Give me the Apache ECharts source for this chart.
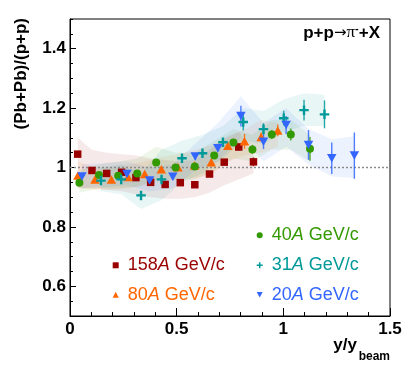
<!DOCTYPE html>
<html><head><meta charset="utf-8">
<script src="https://cdn.jsdelivr.net/npm/echarts@6/dist/echarts.min.js"></script>
<style>html,body{margin:0;padding:0;background:#fff}#c{width:411px;height:373px}</style>
</head><body><div id="c"></div>
<script>
// ---- tick labels ----
const xTickValues = [0, 0.5, 1, 1.5];
const yTickValues = [0.6, 0.8, 1.0, 1.2, 1.4];
const refLevel = 1;

// ---- 158A GeV/c ----
const x158 = [0.036,0.103,0.172,0.242,0.309,0.378,0.446,0.517,0.585,0.654,0.723,0.791,0.860];
const y158 = [1.045,0.990,0.980,0.984,0.966,0.950,0.943,0.949,0.942,0.978,1.018,1.069,1.019];
const e158 = [0.008,0.008,0.008,0.008,0.008,0.008,0.008,0.008,0.008,0.008,0.01,0.012,0.015];
const lo158 = [0.93,0.93,0.925,0.92,0.91,0.90,0.895,0.895,0.90,0.915,0.94,0.96,0.98];
const hi158 = [1.10,1.06,1.05,1.045,1.04,1.03,1.025,1.02,1.025,1.06,1.10,1.12,1.04];

// ---- 80A GeV/c ----
const x80 = [0.037,0.117,0.194,0.272,0.350,0.428,0.506,0.584,0.662,0.740,0.818,0.896,0.974];
const y80 = [0.973,0.960,0.960,0.968,0.978,0.994,1.001,1.007,1.018,1.073,1.088,1.103,1.125];
const e80 = [0.008,0.008,0.008,0.008,0.008,0.008,0.008,0.008,0.01,0.012,0.025,0.015,0.02];
const lo80 = [0.93,0.925,0.925,0.93,0.94,0.955,0.96,0.965,0.975,1.02,1.04,1.05,1.07];
const hi80 = [1.02,1.00,1.00,1.01,1.02,1.035,1.045,1.06,1.075,1.10,1.13,1.16,1.15];

// ---- 40A GeV/c ----
const x40 = [0.044,0.136,0.226,0.315,0.404,0.495,0.585,0.676,0.766,0.855,0.946,1.035,1.125];
const y40 = [0.949,0.975,0.972,0.980,1.017,1.000,1.003,1.040,1.084,1.061,1.111,1.111,1.063];
const e40 = [0.008,0.008,0.008,0.008,0.008,0.008,0.008,0.01,0.012,0.015,0.015,0.02,0.04];
const lo40 = [0.915,0.93,0.93,0.935,0.96,0.96,0.96,0.99,1.03,1.02,1.06,1.06,1.02];
const hi40 = [0.99,1.01,1.02,1.03,1.07,1.05,1.05,1.09,1.13,1.11,1.16,1.16,1.11];

// ---- 31A GeV/c ----
const x31 = [0.145,0.240,0.333,0.429,0.525,0.621,0.717,0.812,0.907,1.002,1.097,1.193];
const y31 = [0.956,0.960,0.906,0.960,1.031,1.048,1.085,1.153,1.129,1.166,1.193,1.179];
const e31 = [0.008,0.008,0.008,0.01,0.01,0.01,0.012,0.028,0.02,0.025,0.035,0.047];
const lo31 = [0.92,0.91,0.86,0.89,0.95,0.98,1.03,1.09,1.08,1.12,1.14,1.14];
const hi31 = [1.00,1.01,0.98,1.06,1.09,1.11,1.14,1.20,1.19,1.23,1.25,1.245];

// ---- 20A GeV/c ----
const x20 = [0.056,0.267,0.373,0.482,0.587,0.693,0.801,0.907,1.013,1.118,1.227,1.333];
const y20 = [0.970,0.978,0.956,0.969,1.037,1.065,1.173,1.087,1.143,1.076,1.031,1.040];
const e20 = [0.008,0.008,0.008,0.01,0.012,0.012,0.035,0.025,0.03,0.05,0.053,0.078];
const lo20 = [0.93,0.94,0.92,0.93,0.99,1.02,1.10,1.02,1.07,1.01,0.97,0.965];
const hi20 = [1.01,1.02,1.00,1.01,1.08,1.15,1.24,1.15,1.20,1.13,1.095,1.105];

const FONT = 'Liberation Sans';
const sets = [
  {num:'158', xs:x158, ys:y158, es:e158, lo:lo158, hi:hi158, color:'#990000', band:'rgba(153,0,0,0.085)', symbol:'rect', size:7.5, lx:115.7, ly:265.3},
  {num:'80', xs:x80, ys:y80, es:e80, lo:lo80, hi:hi80, color:'#ff6600', band:'rgba(255,102,0,0.085)', symbol:'triangle', size:[9.5,8.5], lx:115.7, ly:294.7},
  {num:'40', xs:x40, ys:y40, es:e40, lo:lo40, hi:hi40, color:'#339900', band:'rgba(51,153,0,0.085)', symbol:'circle', size:8, lx:259.7, ly:235.3},
  {num:'31', xs:x31, ys:y31, es:e31, lo:lo31, hi:hi31, color:'#009999', band:'rgba(0,153,153,0.085)', symbol:'path://M3,0H5V3H8V5H5V8H3V5H0V3H3Z', size:9.5, lx:259.7, ly:265.3},
  {num:'20', xs:x20, ys:y20, es:e20, lo:lo20, hi:hi20, color:'#3366ff', band:'rgba(51,102,255,0.085)', symbol:'path://M0,0L10,0L5,9Z', size:[9.5,8.5], lx:259.7, ly:294.7}
];

const series = [];
// bands
sets.forEach(s => {
  series.push({
    type:'custom', silent:true, z:1, clip:true,
    data: s.xs.map((x,i)=>[x, s.lo[i], s.hi[i]]),
    encode:{x:0, y:[1,2]},
    renderItem:(params, api) => {
      if (params.dataIndex !== 0) return {type:'group', children:[]};
      const pts = [];
      for (let i=0;i<s.xs.length;i++) pts.push(api.coord([s.xs[i], s.hi[i]]));
      for (let i=s.xs.length-1;i>=0;i--) pts.push(api.coord([s.xs[i], s.lo[i]]));
      return {type:'polygon', shape:{points:pts}, style:{fill:s.band, stroke:null}};
    }
  });
});
// reference line
series.push({
  type:'line', silent:true, z:2, symbol:'none',
  data:[[xTickValues[0], refLevel],[xTickValues[xTickValues.length-1], refLevel]],
  lineStyle:{color:'#8a8a8a', width:1.3, type:[2,2]}
});
// error bars
sets.forEach(s => {
  series.push({
    type:'custom', silent:true, z:3,
    data: s.xs.map((x,i)=>[x, s.ys[i], s.es[i]]),
    encode:{x:0, y:1},
    renderItem:(params, api) => {
      const x = api.value(0), y = api.value(1), e = api.value(2);
      const p1 = api.coord([x, y-e]), p2 = api.coord([x, y+e]);
      return {type:'line', shape:{x1:p1[0], y1:p1[1], x2:p2[0], y2:p2[1]}, style:{stroke:s.color, lineWidth:1.4, opacity:0.85}};
    }
  });
});
// markers
sets.forEach(s => {
  series.push({
    name: s.num + 'A GeV/c',
    type:'scatter', z:4,
    symbol:s.symbol, symbolSize:s.size,
    itemStyle:{color:s.color, opacity:1},
    data: s.xs.map((x,i)=>[x, s.ys[i]])
  });
});

const legends = sets.map(s => ({
  data:[s.num + 'A GeV/c'],
  left: s.lx - 3, top: s.ly - 10,
  padding:0, itemWidth:6, itemHeight:6, itemGap:0, selectedMode:false,
  formatter: () => `{a|${s.num}}{i|A}{a| GeV/c}`,
  textStyle:{
    color:s.color, fontSize:18, fontFamily:FONT, lineHeight:20, padding:[0,0,0,4],
    rich:{
      a:{color:s.color, fontSize:18, fontFamily:FONT, lineHeight:20},
      i:{color:s.color, fontSize:18, fontFamily:FONT, fontStyle:'italic', lineHeight:20}
    }
  }
}));

const labelStyle = {color:'#000', fontFamily:FONT, fontWeight:'bold', fontSize:17};

const option = {
  animation:false,
  backgroundColor:'#fff',
  grid:{left:70, right:21, top:19, bottom:57, show:true, borderColor:'#000', borderWidth:1, backgroundColor:'transparent'},
  xAxis:{
    type:'value', min:xTickValues[0], max:xTickValues[xTickValues.length-1], interval:0.5,
    axisLine:{lineStyle:{color:'#000', width:1}},
    axisTick:{inside:true, length:8, lineStyle:{color:'#000'}},
    minorTick:{show:true, splitNumber:5, length:4, lineStyle:{color:'#000'}},
    splitLine:{show:false},
    axisLabel:Object.assign({margin:5, formatter:v=>String(v)}, labelStyle)
  },
  yAxis:[{
    type:'value', min:0.5, max:1.5, interval:0.05,
    axisLine:{lineStyle:{color:'#000', width:1}},
    axisTick:{inside:true, length:6, customValues:yTickValues, lineStyle:{color:'#000'}},
    splitLine:{show:false},
    axisLabel:Object.assign({margin:4, customValues:yTickValues, formatter:v=>String(Math.round(v*10)/10)}, labelStyle)
  },{
    type:'value', min:0.5, max:1.5, interval:0.05, position:'left',
    axisLine:{show:false},
    axisTick:{inside:true, length:3, lineStyle:{color:'#000'}},
    axisLabel:{show:false}, splitLine:{show:false}
  }],
  legend: legends,
  graphic:[
    {type:'text', x:21, y:18, rotation:Math.PI/2, z:10,
     style:{text:'(Pb+Pb)/(p+p)', font:'bold 17px "Liberation Sans"', fill:'#000', textAlign:'right', textVerticalAlign:'middle'}},
    {type:'text', x:357, y:354, z:10,
     style:{text:'y/y', font:'bold 17px "Liberation Sans"', fill:'#000', textAlign:'right', textVerticalAlign:'bottom'}},
    {type:'text', x:390, y:363, z:10,
     style:{text:'beam', font:'bold 12px "Liberation Sans"', fill:'#000', textAlign:'right', textVerticalAlign:'bottom'}},
    {type:'text', x:380, y:33, z:10,
     style:{
       text:'{b|p+p}{s|→}{p|π}{u|-}{b|+X}', textAlign:'right', textVerticalAlign:'middle',
       rich:{
         b:{font:'bold 17px "Liberation Sans"', fill:'#000', lineHeight:20},
         s:{font:'15px "DejaVu Sans"', fill:'#000', lineHeight:20},
         p:{font:'17px "Liberation Serif"', fill:'#000', lineHeight:20},
         u:{font:'bold 11px "Liberation Sans"', fill:'#000', lineHeight:11, verticalAlign:'top'}
       }
     }}
  ],
  series: series
};
option.series.forEach(s => { s.yAxisIndex = 0; s.xAxisIndex = 0; });

const chart = echarts.init(document.getElementById('c'), null, {renderer:'canvas'});
chart.setOption(option);
</script>
</body></html>
